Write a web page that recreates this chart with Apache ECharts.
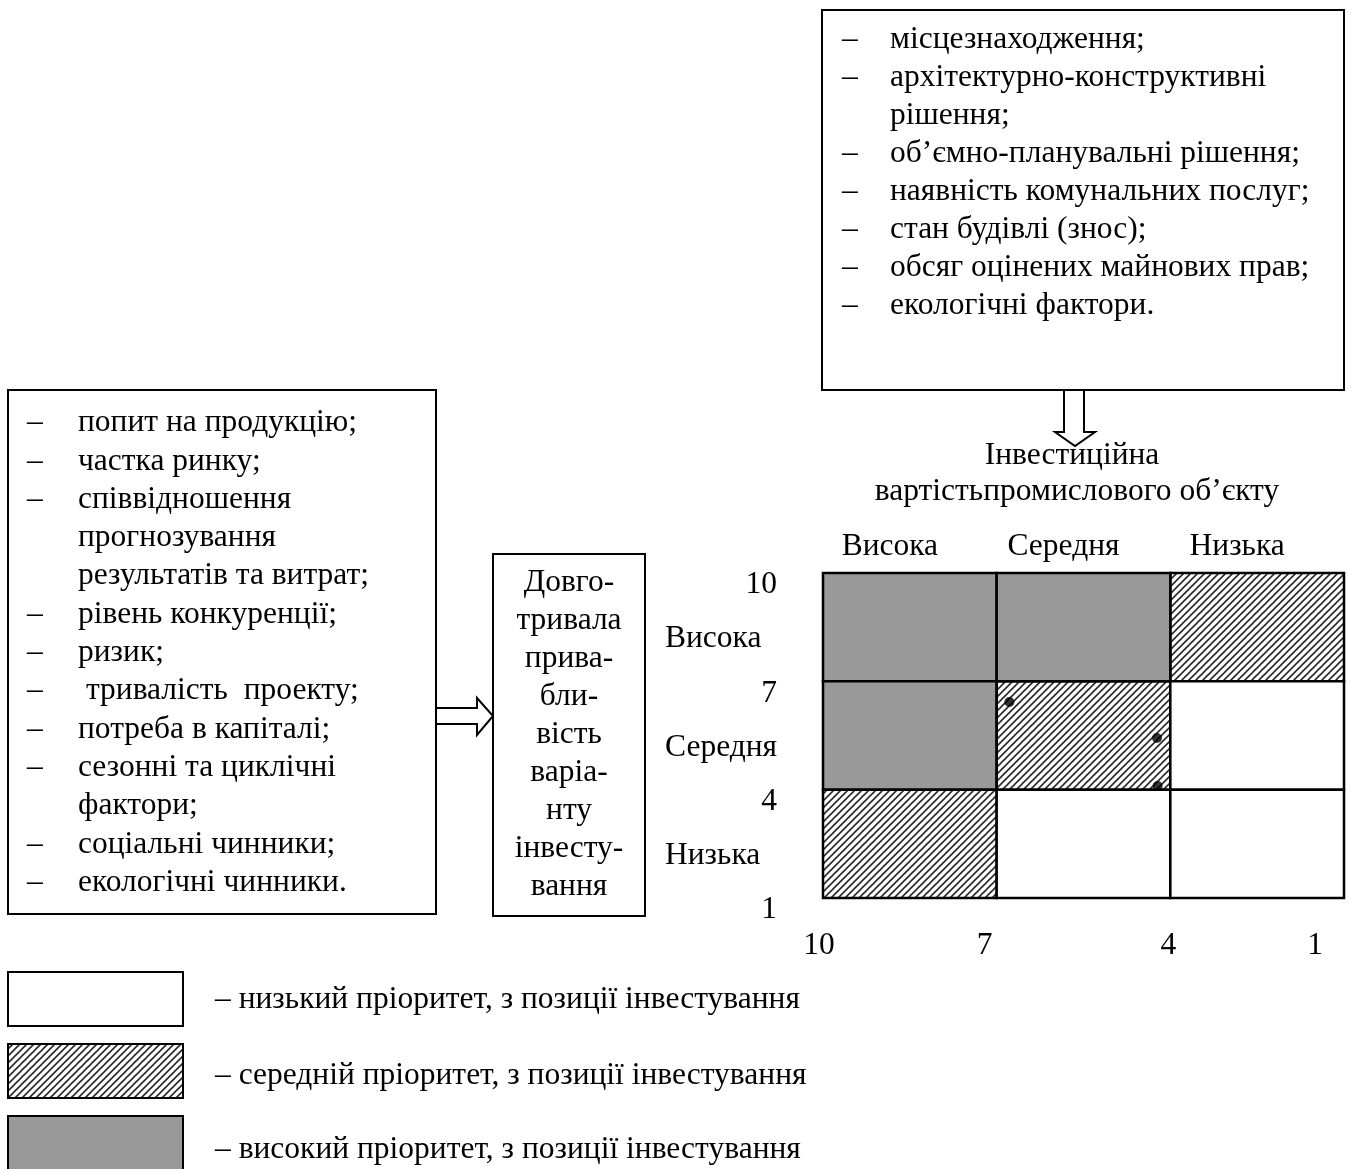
<!DOCTYPE html>
<html>
<head>
<meta charset="utf-8">
<script src="https://cdn.jsdelivr.net/npm/echarts@6/dist/echarts.min.js"></script>
<style>
  html, body { margin: 0; padding: 0; background: #fff; }
  #chart { width: 1355px; height: 1169px; }
</style>
</head>
<body>
<div id="chart"></div>
<script>
// --- дані ---
const leftFactors = [
  ['попит на продукцію;'],
  ['частка ринку;'],
  ['співвідношення', 'прогнозування', 'результатів та витрат;'],
  ['рівень конкуренції;'],
  ['ризик;'],
  [' тривалість  проекту;'],
  ['потреба в капіталі;'],
  ['сезонні та циклічні', 'фактори;'],
  ['соціальні чинники;'],
  ['екологічні чинники.']
]
const objectFactors = [
  ['місцезнаходження;'],
  ['архітектурно-конструктивні', 'рішення;'],
  ['об’ємно-планувальні рішення;'],
  ['наявність комунальних послуг;'],
  ['стан будівлі (знос);'],
  ['обсяг оцінених майнових прав;'],
  ['екологічні фактори.']
]
const centerLines = ['Довго-', 'тривала', 'прива-', 'бли-', 'вість', 'варіа-', 'нту', 'інвесту-', 'вання']
const titleLines = ['Інвестиційна', 'вартістьпромислового об’єкту']

const levelNames = ['Висока', 'Середня', 'Низька']
const levelMids = [8.5, 5.5, 2.5]
const scaleTicks = [10, 7, 4, 1]
const xBands = [[10, 7], [7, 4], [4, 1]]   // вартість: висока -> низька
const yBands = [[7, 10], [4, 7], [1, 4]]   // привабливість: висока -> низька
// 2 = високий, 1 = середній, 0 = низький пріоритет
const priority = [
  [2, 2, 1],
  [2, 1, 0],
  [1, 0, 0]
]
const points = [[6.78, 6.43], [4.23, 5.43], [4.22, 4.1]]
const legendLabels = [
  '– низький пріоритет, з позиції інвестування',
  '– середній пріоритет, з позиції інвестування',
  '– високий пріоритет, з позиції інвестування'
]

// --- стилі ---
const FONT = '"Liberation Serif", "Times New Roman", serif'
const FS = 31.5
const font = FS + 'px ' + FONT

// штрихування
const pc = document.createElement('canvas')
pc.width = pc.height = 7
const pctx = pc.getContext('2d')
pctx.strokeStyle = '#2a2a2a'
pctx.lineWidth = 1.6
pctx.beginPath()
pctx.moveTo(0, 7); pctx.lineTo(7, 0)
pctx.moveTo(-1, 1); pctx.lineTo(1, -1)
pctx.moveTo(6, 8); pctx.lineTo(8, 6)
pctx.stroke()
const hatch = { image: pc, repeat: 'repeat' }
const fills = ['#ffffff', hatch, '#999999']

const cells = []
yBands.forEach((yb, r) => {
  xBands.forEach((xb, c) => {
    cells.push([xb[0], xb[1], yb[0], yb[1], priority[r][c]])
  })
})

function txt(s, x, y, align) {
  return { type: 'text', style: { text: s, x: x, y: y, font: font, fill: '#000', textAlign: align || 'left', textVerticalAlign: 'middle' } }
}
function box(x, y, w, h, fill) {
  return { type: 'rect', shape: { x: x, y: y, width: w, height: h }, style: { fill: fill || '#fff', stroke: '#000', lineWidth: 2 } }
}
function list(items, dashX, textX, y0, step) {
  const out = []
  let i = 0
  items.forEach(lines => {
    out.push(txt('–', dashX, y0 + i * step))
    lines.forEach(l => { out.push(txt(l, textX, y0 + i * step)); i++ })
  })
  return out
}

const graphics = []
// рамки
graphics.push(box(8, 390, 428, 524))
graphics.push(box(822, 10, 522, 380))
graphics.push(box(493, 554, 152, 362))
graphics.push(...list(leftFactors, 27, 78, 423, 38.3))
graphics.push(...list(objectFactors, 842, 890, 40, 37.9))
centerLines.forEach((l, i) => graphics.push(txt(l, 569, 583 + i * 38, 'center')))
titleLines.forEach((l, i) => graphics.push(txt(l, i ? 1077 : 1072, 456 + i * 36, 'center')))
// стрілки
graphics.push({ type: 'polygon', shape: { points: [[436, 708], [477, 708], [477, 698], [493, 716], [477, 735], [477, 724], [436, 724]] }, style: { fill: '#fff', stroke: '#000', lineWidth: 2 } })
graphics.push({ type: 'polygon', shape: { points: [[1064, 390], [1084, 390], [1084, 432], [1095, 432], [1075, 446], [1055, 432], [1064, 432]] }, style: { fill: '#fff', stroke: '#000', lineWidth: 2 } })
// легенда
const legendY = [972, 1044, 1116]
const legendTextY = [1000, 1076, 1150]
legendLabels.forEach((l, i) => {
  graphics.push(box(8, legendY[i], 175, i === 2 ? 60 : 54, fills[i]))
  graphics.push(txt(l, 215, legendTextY[i]))
})

const xShift = { 10: 8, 7: 24, 4: 4, 1: 58 }
const lbl = { fontFamily: FONT, fontSize: FS, color: '#000' }

const myChart = echarts.init(document.getElementById('chart'))
const option = {
  animation: false,
  textStyle: lbl,
  grid: { left: 823, top: 573, width: 521, height: 325 },
  xAxis: [{
    type: 'value', min: 1, max: 10, inverse: true, position: 'bottom',
    axisLine: { show: false }, axisTick: { show: false }, splitLine: { show: false },
    axisLabel: {
      customValues: scaleTicks, margin: 32, ...lbl,
      formatter: v => '{s' + v + '|' + v + '}',
      rich: Object.fromEntries(scaleTicks.map(t => ['s' + t, { ...lbl, padding: [0, xShift[t], 0, 0] }]))
    }
  }, {
    type: 'value', min: 1, max: 10, inverse: true, position: 'top',
    axisLine: { show: false }, axisTick: { show: false }, splitLine: { show: false },
    axisLabel: {
      customValues: levelMids, margin: 10, ...lbl,
      formatter: v => '{n|' + levelNames[levelMids.indexOf(v)] + '}',
      rich: { n: { ...lbl, padding: [0, 40, 0, 0] } }
    }
  }],
  yAxis: [{
    type: 'value', min: 1, max: 10, position: 'left',
    axisLine: { show: false }, axisTick: { show: false }, splitLine: { show: false },
    axisLabel: {
      customValues: scaleTicks, margin: 46, align: 'right', ...lbl,
      formatter: v => '{d|' + v + '}',
      rich: { d: { ...lbl, padding: [24, 0, 0, 0] } }
    }
  }, {
    type: 'value', min: 1, max: 10, position: 'left',
    axisLine: { show: false }, axisTick: { show: false }, splitLine: { show: false },
    axisLabel: {
      customValues: levelMids, margin: 158, align: 'left', ...lbl,
      formatter: v => '{n|' + levelNames[levelMids.indexOf(v)] + '}',
      rich: { n: { ...lbl, padding: [24, 0, 0, 0] } }
    }
  }],
  series: [{
    type: 'custom',
    data: cells,
    renderItem: (params, api) => {
      const p0 = api.coord([api.value(0), api.value(3)])
      const p1 = api.coord([api.value(1), api.value(2)])
      return {
        type: 'rect',
        shape: { x: p0[0], y: p0[1], width: p1[0] - p0[0], height: p1[1] - p0[1] },
        style: { fill: fills[api.value(4)], stroke: '#000', lineWidth: 2.5 }
      }
    }
  }, {
    type: 'scatter',
    data: points,
    symbolSize: 10,
    itemStyle: { color: '#000' },
    z: 5
  }],
  graphic: graphics
}
myChart.setOption(option)
</script>
</body>
</html>
